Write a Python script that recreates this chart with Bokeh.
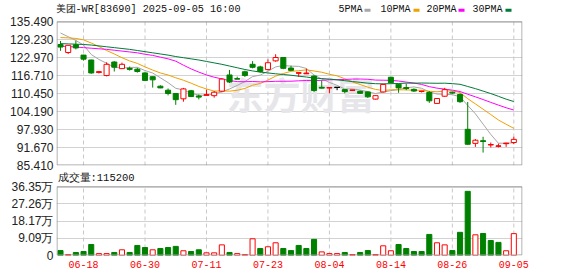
import numpy as np
import pandas as pd
from bokeh.plotting import figure
from bokeh.layouts import column
from bokeh.models import Range1d, FixedTicker, CustomJSTickFormatter, PrintfTickFormatter
from bokeh.embed import file_html
from bokeh.resources import INLINE
from bokeh.core.properties import value

# ---------------- data ----------------
dates = ["06-13", "06-16", "06-17", "06-18", "06-19", "06-20", "06-23", "06-24", "06-25", "06-26",
         "06-27", "06-30", "07-02", "07-03", "07-04", "07-07", "07-08", "07-09", "07-10", "07-11",
         "07-14", "07-15", "07-16", "07-17", "07-18", "07-21", "07-22", "07-23", "07-24", "07-25",
         "07-28", "07-29", "07-30", "07-31", "08-01", "08-04", "08-05", "08-06", "08-07", "08-08",
         "08-11", "08-12", "08-13", "08-14", "08-15", "08-18", "08-19", "08-20", "08-21", "08-22",
         "08-25", "08-26", "08-27", "08-28", "08-29", "09-01", "09-02", "09-03", "09-04", "09-05"]

open_ = [127.5, 124.7, 127.4, 123.8, 122.1, 117.8, 116.7, 121.4, 119.1, 119.2,
         118.9, 117.6, 116.3, 113.0, 111.6, 110.45, 108.6, 111.4, 109.6, 109.85,
         109.7, 111.25, 116.9, 115.6, 118.0, 120.6, 119.7, 118.76, 121.8, 122.97,
         119.3, 117.55, 117.3, 116.5, 112.6, 112.4, 112.55, 111.8, 111.5, 111.2,
         111.0, 108.5, 111.0, 116.1, 113.7, 112.5, 111.9, 111.15, 110.8, 107.0,
         109.5, 110.9, 110.1, 98.0, 93.1, 94.0, 92.6, 92.1, 93.0, 93.4]
high = [128.7, 127.3, 128.8, 123.9, 122.2, 118.3, 121.3, 121.7, 121.2, 119.8,
        119.4, 117.8, 116.4, 113.3, 112.2, 110.6, 112.4, 111.7, 110.1, 111.8,
        111.3, 115.8, 118.65, 116.3, 118.4, 121.7, 120.1, 122.3, 124.1, 123.0,
        120.1, 117.7, 119.1, 116.8, 115.0, 112.6, 112.55, 112.0, 111.7, 111.5,
        111.2, 109.8, 113.8, 116.3, 113.8, 113.9, 112.2, 111.4, 111.3, 108.8,
        112.4, 111.1, 110.5, 107.5, 94.6, 95.4, 93.4, 93.0, 93.3, 95.4]
low = [125.3, 124.2, 125.8, 121.9, 117.3, 117.4, 116.4, 118.1, 119.0, 118.4,
       117.7, 114.9, 112.5, 112.3, 109.8, 106.5, 107.6, 109.2, 108.4, 109.8,
       109.0, 110.9, 114.1, 115.5, 116.2, 119.2, 117.7, 118.5, 121.5, 118.9,
       118.3, 116.2, 117.2, 111.0, 112.2, 110.5, 111.6, 110.5, 111.5, 110.3,
       108.9, 108.4, 110.8, 114.0, 110.7, 111.6, 111.0, 110.8, 107.2, 106.9,
       109.3, 110.3, 107.2, 92.6, 91.9, 89.9, 91.7, 91.7, 91.9, 92.9]
close = [126.6, 127.2, 126.3, 122.4, 117.6, 117.95, 120.6, 119.6, 120.6, 118.9,
         118.1, 115.0, 115.2, 112.4, 110.45, 108.3, 112.05, 109.4, 109.3, 110.0,
         110.9, 115.46, 114.44, 115.5, 116.7, 119.56, 118.08, 121.15, 122.97, 119.2,
         118.5, 117.6, 117.5, 111.5, 112.4, 112.5, 112.55, 111.1, 111.6, 110.5,
         109.3, 109.7, 113.6, 114.2, 112.4, 112.2, 111.3, 111.2, 107.9, 108.7,
         111.8, 110.6, 107.6, 92.8, 94.2, 93.8, 92.7, 92.2, 93.1, 94.5]
# volume in 万 shares
vol_wan = [2.6, 0.5, 1.6, 2.1, 5.8, 1.0, 1.0, 1.6, 3.0, 1.6,
           5.3, 4.2, 3.0, 3.7, 4.2, 4.8, 2.5, 2.1, 3.0, 1.4,
           1.4, 5.6, 1.6, 1.0, 0.5, 8.8, 3.7, 4.6, 6.7, 3.7,
           2.6, 5.3, 3.7, 8.5, 1.9, 1.0, 1.0, 1.6, 0.5, 1.6,
           2.6, 0.5, 5.1, 2.5, 5.8, 3.7, 2.1, 2.1, 11.1, 6.7,
           5.6, 2.6, 12.2, 33.8, 10.9, 11.6, 7.9, 6.9, 2.5, 11.52]

# moving-average values before enough history is visible
ma5_head = [131.5, 130.2, 128.9, 127.3]
ma10_head = [129.9, 129.8, 129.6, 129.1, 128.0, 126.8, 125.4, 124.2, 122.9]
ma20_head = [126.9, 126.8, 126.6, 126.4, 126.2, 126.0, 125.8, 125.5, 125.2, 124.9,
             124.6, 124.1, 123.7, 123.1, 122.5, 121.7, 120.3, 119.0, 117.9]
ma30_head = [127.8, 127.7, 127.6, 127.5, 127.3, 127.0, 126.7, 126.4, 126.1, 125.8,
             125.4, 125.0, 124.6, 124.2, 123.8, 123.3, 122.9, 122.5, 122.1, 121.6,
             121.1, 120.6, 120.0, 119.4, 118.8, 118.3, 117.9, 117.6, 117.3]

price_ticks = [135.49, 129.23, 122.97, 116.71, 110.45, 104.19, 97.93, 91.67, 85.41]
vol_ticks = [0, 9.09, 18.17, 27.26, 36.35]
tick_dates = ["06-18", "06-30", "07-11", "07-23", "08-04", "08-14", "08-26", "09-05"]

title_text = "美团-WR[83690] 2025-09-05 16:00"
legend_labels = ["5PMA", "10PMA", "20PMA", "30PMA"]
ma_colors = ["#a6a6a6", "#f0a000", "#ff00ff", "#007a3a"]

# ---------------- derived ----------------
n = len(close)
idx = np.arange(n)
cl = pd.Series(close)


def ma(k, head):
    m = cl.rolling(k).mean().to_numpy()
    m[:k - 1] = head
    return m


mas = [ma(5, ma5_head), ma(10, ma10_head), ma(20, ma20_head), ma(30, ma30_head)]

RED, GREEN, BLACK = "#ff0000", "#008000", "#000000"
cc = []
for o, c in zip(open_, close):
    cc.append(RED if c > o else (GREEN if c < o else BLACK))
cfill = ["white" if col == RED else col for col in cc]
vc = []
for i in range(n):
    ref = close[i - 1] if i > 0 else open_[i]
    vc.append(RED if close[i] > ref else GREEN)
vfill = ["white" if col == RED else col for col in vc]

tick_idx = [dates.index(d) for d in tick_dates]

# ---------------- layout constants (pixels) ----------------
W, H = 578, 276
MAIN_H = 172
FL, FR = 56, 522
XS, XE = -0.52, 60.13
PT, PB = 21, 165          # price frame top/bottom
VT, VB = 186, 255         # volume frame top/bottom
Y0, Y1 = price_ticks[-1], price_ticks[0]
V1 = vol_ticks[-1]


def px2x(px):
    return XS + (px - FL) / (FR - FL) * (XE - XS)


def py2p(py):
    return Y1 - (py - PT) * (Y1 - Y0) / (PB - PT)


def py2v(py):
    return V1 - (py - VT) * V1 / (VB - VT)


BW = 0.66
MONO = "Liberation Mono"
SANS = "Liberation Sans"
GRID = "#d2d2d2"
VGRID = "#c8c8c8"
BORDER = "#9a9a9a"
TXT = "#111111"


def style_yaxis(fig, ticks):
    ax = fig.yaxis[0]
    ax.ticker = FixedTicker(ticks=ticks)
    ax.axis_line_color = None
    ax.major_tick_line_color = None
    ax.minor_tick_line_color = None
    ax.major_tick_out = 0
    ax.major_tick_in = 0
    ax.major_label_standoff = 3
    ax.major_label_text_font = SANS
    ax.major_label_text_font_size = "12px"
    ax.major_label_text_color = "#222222"
    fig.ygrid.grid_line_color = GRID
    fig.xgrid.visible = False
    fig.outline_line_color = None


x_range = Range1d(XS, XE)

# ---------------- main price chart ----------------
p = figure(width=W, height=MAIN_H, x_range=x_range, y_range=Range1d(Y0, py2p(0)),
           output_backend="svg", toolbar_location=None, x_axis_location=None,
           min_border_left=FL, min_border_right=W - FR, min_border_top=0,
           min_border_bottom=MAIN_H - PB)
style_yaxis(p, price_ticks)
p.yaxis.formatter = PrintfTickFormatter(format="%.3f")

# vertical dashed grid inside the price frame
p.segment(x0=tick_idx, y0=[Y0] * len(tick_idx), x1=tick_idx, y1=[Y1] * len(tick_idx),
          line_color=VGRID, line_width=1, line_dash="4 3")

# watermark
p.text(x=[px2x(300)], y=[py2p(93)], text=["东方财富"], text_font=value("Noto Sans CJK SC"),
       text_font_size="37px", text_font_style="bold", text_color="#e6e6ea",
       text_align="center", text_baseline="middle")

# moving averages
for m, col in zip(mas, ma_colors):
    p.line(idx, m, line_color=col, line_width=1)

# candles
p.segment(x0=idx, y0=low, x1=idx, y1=high, line_color=cc, line_width=1)
tops = [max(o, c) for o, c in zip(open_, close)]
bots = [min(o, c) for o, c in zip(open_, close)]
p.vbar(x=idx, width=BW, top=tops, bottom=bots, fill_color=cfill, line_color=cc, line_width=1)
thin = [i for i in range(n) if abs(close[i] - open_[i]) < 0.3]
p.segment(x0=[i - BW / 2 for i in thin], y0=[close[i] for i in thin],
          x1=[i + BW / 2 for i in thin], y1=[close[i] for i in thin],
          line_color=[cc[i] for i in thin], line_width=1.2)

# frame border of the price panel
p.quad(left=[px2x(FL + 0.5)], right=[px2x(FR - 0.5)], top=[py2p(PT + 0.5)],
       bottom=[py2p(PB - 0.5)], fill_color=None, line_color=BORDER, line_width=1)

# title & legend
p.text(x=[px2x(55)], y=[py2p(9)], text=[title_text], text_font=value(MONO),
       text_font_size="10.2px", text_color=TXT, text_baseline="middle", text_align="left")
leg_text_px = [338, 380, 426, 472]
leg_sw_px = [364, 413, 458, 505]
p.text(x=[px2x(v) for v in leg_text_px], y=[py2p(9)] * 4, text=legend_labels,
       text_font=value(MONO), text_font_size="10px", text_color=TXT,
       text_baseline="middle", text_align="left")
p.rect(x=[px2x(v + 3) for v in leg_sw_px], y=[py2p(9.7)] * 4, width=6, height=3,
       width_units="screen", height_units="screen", fill_color=ma_colors, line_color=None)

# ---------------- volume chart ----------------
VOL_H = H - MAIN_H
pv = figure(width=W, height=VOL_H, x_range=x_range, y_range=Range1d(0, py2v(MAIN_H)),
            output_backend="svg", toolbar_location=None,
            min_border_left=FL, min_border_right=W - FR, min_border_top=0,
            min_border_bottom=H - VB)
style_yaxis(pv, vol_ticks)
pv.yaxis.formatter = CustomJSTickFormatter(code="return tick == 0 ? '0' : tick.toFixed(2) + '万';")

ax = pv.xaxis[0]
ax.ticker = FixedTicker(ticks=tick_idx)
ax.major_label_overrides = {i: dates[i] for i in tick_idx}
ax.axis_line_color = None
ax.major_tick_line_color = None
ax.minor_tick_line_color = None
ax.major_tick_out = 0
ax.major_tick_in = 0
ax.major_label_standoff = 5
ax.major_label_text_font = MONO
ax.major_label_text_font_size = "10px"
ax.major_label_text_color = "#ff0000"

pv.segment(x0=tick_idx, y0=[0] * len(tick_idx), x1=tick_idx, y1=[V1] * len(tick_idx),
           line_color=VGRID, line_width=1, line_dash="4 3")

pv.vbar(x=idx, width=BW, top=vol_wan, bottom=0, fill_color=vfill, line_color=vc, line_width=1)

pv.quad(left=[px2x(FL + 0.5)], right=[px2x(FR - 0.5)], top=[py2v(VT + 0.5)],
        bottom=[py2v(VB - 0.5)], fill_color=None, line_color=BORDER, line_width=1)

pv.text(x=[px2x(57)], y=[py2v(177)], text=["成交量:" + str(int(round(vol_wan[-1] * 10000)))],
        text_font=value(MONO), text_font_size="10.5px", text_color=TXT,
        text_baseline="middle", text_align="left")

layout = column(p, pv)
open("out.html", "w", encoding="utf-8").write(file_html(layout, INLINE))
